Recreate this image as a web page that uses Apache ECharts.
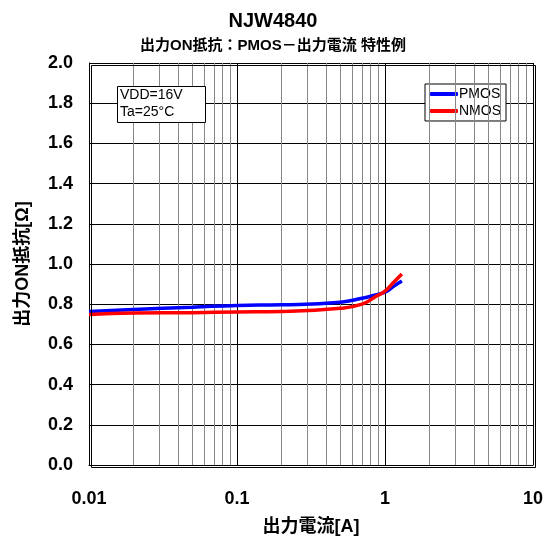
<!DOCTYPE html>
<html>
<head>
<meta charset="utf-8">
<script src="https://cdn.jsdelivr.net/npm/echarts@6/dist/echarts.min.js"></script>
<style>
html,body{margin:0;padding:0;background:#fff;}
#chart{width:546px;height:539px;}
</style>
</head>
<body>
<div id="chart"></div>
<script>
var currents = [0.01, 0.02, 0.05, 0.1, 0.2, 0.5, 0.7, 0.85, 1, 1.15, 1.3];
var pmos = [0.764, 0.774, 0.785, 0.794, 0.797, 0.81, 0.83, 0.845, 0.86, 0.89, 0.915];
var nmos = [0.749, 0.756, 0.758, 0.761, 0.764, 0.78, 0.80, 0.835, 0.865, 0.91, 0.95];
var minorX = [0.02, 0.03, 0.04, 0.05, 0.06, 0.07, 0.08, 0.09,
	0.2, 0.3, 0.4, 0.5, 0.6, 0.7, 0.8, 0.9,
	2, 3, 4, 5, 6, 7, 8, 9];

var font = '"Liberation Sans", Arial, "Noto Sans CJK JP", sans-serif';
var chart = echarts.init(document.getElementById('chart'));

function pairs(xs, ys) {
	var out = [];
	for (var i = 0; i < xs.length; i++) {
		out.push([xs[i], ys[i]]);
	}
	return out;
}

var minorLines = [];
for (var i = 0; i < minorX.length; i++) {
	minorLines.push({xAxis: minorX[i]});
}

chart.setOption({
	animation: false,
	title: [{
		text: 'NJW4840',
		left: 'center',
		top: 6,
		textStyle: {fontFamily: font, fontSize: 20, fontWeight: 'bold', color: '#000'}
	}, {
		text: '出力ON抵抗：PMOS－出力電流 特性例',
		left: 'center',
		top: 33,
		textStyle: {fontFamily: font, fontSize: 15, fontWeight: 'bold', color: '#000'}
	}],
	grid: {left: 89, right: 13, top: 63, bottom: 74, outerBoundsMode: 'none', containLabel: false},
	legend: {
		data: ['PMOS', 'NMOS'],
		orient: 'vertical',
		left: 425,
		top: 84,
		icon: 'roundRect',
		itemWidth: 28,
		itemHeight: 4,
		itemGap: 3,
		padding: [3, 5, 3, 5],
		backgroundColor: '#fff',
		borderColor: '#000',
		borderWidth: 1,
		borderRadius: 0,
		textStyle: {fontFamily: font, fontSize: 14, color: '#000', padding: [0, 0, 0, -4]}
	},
	xAxis: {
		type: 'log',
		min: 0.01,
		max: 10,
		logBase: 10,
		name: '出力電流[A]',
		nameLocation: 'middle',
		nameGap: 53,
		nameTextStyle: {fontFamily: font, fontSize: 18, fontWeight: 'bold', color: '#000'},
		axisLine: {lineStyle: {color: '#000', width: 1}},
		axisTick: {show: false},
		axisLabel: {fontFamily: font, fontSize: 18, fontWeight: 'bold', color: '#000', margin: 25,
			formatter: function (v) { return String(v); }},
		splitLine: {show: true, lineStyle: {color: '#000', width: 1}}
	},
	yAxis: {
		type: 'value',
		min: 0,
		max: 2,
		interval: 0.2,
		name: '出力ON抵抗[Ω]',
		nameLocation: 'middle',
		nameGap: 57,
		nameTextStyle: {fontFamily: font, fontSize: 18, fontWeight: 'bold', color: '#000'},
		axisLine: {show: true, lineStyle: {color: '#000', width: 1}},
		axisTick: {show: false},
		axisLabel: {fontFamily: font, fontSize: 18, fontWeight: 'bold', color: '#000', margin: 16,
			formatter: function (v) { return v.toFixed(1); }},
		splitLine: {show: true, lineStyle: {color: '#000', width: 1}}
	},
	graphic: [{
		type: 'rect',
		left: 89, top: 63,
		shape: {width: 444, height: 402},
		style: {fill: 'none', stroke: '#000', lineWidth: 1},
		z: 10
	}, {
		type: 'rect',
		left: 117, top: 86,
		shape: {width: 88, height: 36},
		style: {fill: '#fff', stroke: '#000', lineWidth: 1},
		z: 20
	}, {
		type: 'text',
		left: 120, top: 87,
		style: {text: 'VDD=16V\nTa=25°C', font: '14px ' + font, fill: '#000', lineHeight: 17},
		z: 21
	}],
	series: [{
		name: 'grid',
		type: 'line',
		data: [],
		markLine: {
			silent: true,
			symbol: 'none',
			label: {show: false},
			lineStyle: {color: '#888', width: 1, type: 'solid'},
			data: minorLines
		}
	}, {
		name: 'PMOS',
		type: 'line',
		smooth: true,
		symbol: 'none',
		color: '#0000ff',
		lineStyle: {width: 3.5},
		data: pairs(currents, pmos),
		z: 5
	}, {
		name: 'NMOS',
		type: 'line',
		smooth: true,
		symbol: 'none',
		color: '#ff0000',
		lineStyle: {width: 3.5},
		data: pairs(currents, nmos),
		z: 6
	}]
});
</script>
</body>
</html>
